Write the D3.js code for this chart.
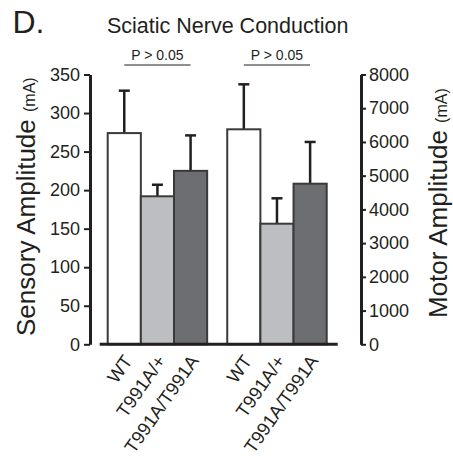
<!DOCTYPE html>
<html>
<head>
<meta charset="utf-8">
<script src="https://cdn.jsdelivr.net/npm/d3@7"></script>
<style>
  body { margin: 0; background: #fff; }
  text { font-family: "Liberation Sans", Arial, Helvetica, sans-serif; fill: #231f20; }
</style>
</head>
<body>
<svg id="chart" width="453" height="456"></svg>
<script>
// data
const genotypes = ["WT", "T991A/+", "T991A/T991A"];
const measures = ["sensory", "motor"];
const sensoryMeans = [274, 192, 225];
const sensorySem = [55, 15, 46];
const motorMeans = [6375, 3576, 4762];
const motorSem = [1334, 753, 1238];
const sensoryTicks = [0, 50, 100, 150, 200, 250, 300, 350];
const motorTicks = [0, 1000, 2000, 3000, 4000, 5000, 6000, 7000, 8000];
const pLabels = ["P > 0.05", "P > 0.05"];

const fills = ["#ffffff", "#bdbec1", "#6d6e71"];
const ink = "#231f20";

const svg = d3.select("#chart");

const ySens = d3.scaleLinear().domain([0, 350]).range([344.3, 74.5]);
const yMotor = d3.scaleLinear().domain([0, 8000]).range([344.3, 74.5]);

// groups side by side, bars touching inside a group
const xGroup = d3.scaleBand().domain(measures).range([107.7, 326.7]).paddingInner(0.168);
const xBar = d3.scaleBand().domain(genotypes).range([0, xGroup.bandwidth()]);

const groups = [
  { key: "sensory", means: sensoryMeans, sem: sensorySem, y: ySens },
  { key: "motor", means: motorMeans, sem: motorSem, y: yMotor }
];

// left axis
const leftAxis = svg.append("g")
  .attr("transform", "translate(90,0)")
  .call(d3.axisLeft(ySens).tickValues(sensoryTicks).tickSize(6).tickSizeOuter(0).tickPadding(4));
// right axis
const rightAxis = svg.append("g")
  .attr("transform", "translate(361,0)")
  .call(d3.axisRight(yMotor).tickValues(motorTicks).tickFormat(d3.format("d"))
    .tickSize(5).tickSizeOuter(0).tickPadding(3));

[leftAxis, rightAxis].forEach(ax => {
  ax.select(".domain").attr("stroke", ink).attr("stroke-width", 3);
  ax.selectAll(".tick line").attr("stroke", ink).attr("stroke-width", 2);
  ax.selectAll(".tick text").attr("font-size", 18).attr("fill", ink)
    .style("font-family", "'Liberation Sans', Arial, sans-serif");
});

// bars + error bars
groups.forEach(g => {
  const gx = xGroup(g.key);
  const rows = genotypes.map((name, i) => ({ name, mean: g.means[i], sem: g.sem[i], i }));
  const grp = svg.append("g").attr("transform", `translate(${gx},0)`);

  grp.selectAll("line.err")
    .data(rows).enter().append("line")
    .attr("class", "err")
    .attr("x1", d => xBar(d.name) + xBar.bandwidth() / 2)
    .attr("x2", d => xBar(d.name) + xBar.bandwidth() / 2)
    .attr("y1", d => g.y(d.mean))
    .attr("y2", d => g.y(d.mean + d.sem))
    .attr("stroke", ink).attr("stroke-width", 2.5);

  grp.selectAll("line.cap")
    .data(rows).enter().append("line")
    .attr("class", "cap")
    .attr("x1", d => xBar(d.name) + xBar.bandwidth() / 2 - 5.5)
    .attr("x2", d => xBar(d.name) + xBar.bandwidth() / 2 + 5.5)
    .attr("y1", d => g.y(d.mean + d.sem))
    .attr("y2", d => g.y(d.mean + d.sem))
    .attr("stroke", ink).attr("stroke-width", 2.5);

  grp.selectAll("rect")
    .data(rows).enter().append("rect")
    .attr("x", d => xBar(d.name))
    .attr("y", d => g.y(d.mean))
    .attr("width", xBar.bandwidth())
    .attr("height", d => g.y(0) - g.y(d.mean))
    .attr("fill", d => fills[d.i])
    .attr("stroke", "#3a3a3a").attr("stroke-width", 2);

  // x labels
  grp.selectAll("text.xl")
    .data(rows).enter().append("text")
    .attr("class", "xl")
    .attr("text-anchor", "end")
    .attr("font-size", 18.5)
    .attr("transform", d => `translate(${xBar(d.name) + xBar.bandwidth() / 2 + 9},361) rotate(-55)`)
    .text(d => d.name);
});

// baseline under the bars
svg.append("line")
  .attr("x1", xGroup.range()[0] - 8).attr("x2", xGroup.range()[1] + 11)
  .attr("y1", ySens(0)).attr("y2", ySens(0))
  .attr("stroke", ink).attr("stroke-width", 3);

// significance brackets
measures.forEach((m, k) => {
  const xa = xGroup(m) + xBar(genotypes[0]) + xBar.bandwidth() / 2;
  const xb = xGroup(m) + xBar(genotypes[2]) + xBar.bandwidth() / 2;
  svg.append("line")
    .attr("x1", xa).attr("x2", xb).attr("y1", 65).attr("y2", 65)
    .attr("stroke", ink).attr("stroke-width", 1);
  svg.append("text")
    .attr("x", (xa + xb) / 2).attr("y", 60)
    .attr("text-anchor", "middle").attr("font-size", 14)
    .text(pLabels[k]);
});

// titles
svg.append("text").attr("x", 12.5).attr("y", 33).attr("font-size", 32).text("D.");
svg.append("text").attr("x", 107).attr("y", 33).attr("font-size", 21.5).text("Sciatic Nerve Conduction");

const leftLabel = svg.append("text")
  .attr("transform", "translate(35,336) rotate(-90)")
  .attr("font-size", 26);
leftLabel.append("tspan").text("Sensory Amplitude ");
leftLabel.append("tspan").attr("font-size", 16).text("(mA)");

const rightLabel = svg.append("text")
  .attr("transform", "translate(447,318) rotate(-90)")
  .attr("font-size", 26);
rightLabel.append("tspan").text("Motor Amplitude ");
rightLabel.append("tspan").attr("font-size", 16).text("(mA)");
</script>
</body>
</html>
